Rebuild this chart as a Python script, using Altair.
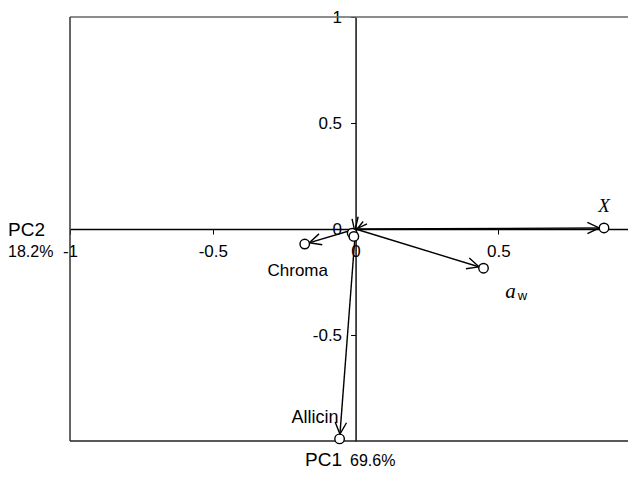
import math
import altair as alt
import pandas as pd

# ---- data (PCA loadings) ----
names = ["X", "a_w", "Chroma", "Allicin", "v5", "v6"]
pc1 = [0.87, 0.448, -0.178, -0.056, -0.012, -0.006]
pc2 = [0.005, -0.185, -0.071, -0.99, -0.02, -0.035]
x_ticks = [-1, -0.5, 0, 0.5, 1]
y_ticks = [-0.5, 0, 0.5, 1]

# ---- layout ----
W, H = 558, 424
XMIN, XMAX = -1.0, 0.954
YMIN, YMAX = -1.0, 1.0
px = W / (XMAX - XMIN)
py = H / (YMAX - YMIN)
FONT = "Liberation Sans"
SERIF = "Liberation Serif"

df = pd.DataFrame({"name": names, "pc1": pc1, "pc2": pc2})
df["ang"] = [math.degrees(math.atan2(-b * py, a * px)) % 360 for a, b in zip(pc1, pc2)]

sx = alt.Scale(domain=[XMIN, XMAX], nice=False, zero=False)
sy = alt.Scale(domain=[YMIN, YMAX], nice=False, zero=False)

ax = alt.Axis(values=x_ticks, orient="bottom", offset=-(H - (0 - YMIN) * py), title=None,
              grid=False, domainColor="black", domainWidth=1.6, tickColor="black",
              tickSize=5, tickWidth=1, labelFont=FONT, labelFontSize=17, labelColor="black",
              labelPadding=9, labelFlush=False, labelOverlap=False,
              labelExpr="toString(datum.value)")
ay = alt.Axis(values=y_ticks, orient="left", offset=-((0 - XMIN) * px), title=None,
              grid=False, domainColor="black", domainWidth=1.4, tickColor="black",
              tickSize=5, tickWidth=1, labelFont=FONT, labelFontSize=17, labelColor="black",
              labelPadding=9, labelFlush=False, labelOverlap=False,
              labelExpr="toString(datum.value)")

X = alt.X("pc1:Q", scale=sx, axis=ax)
Y = alt.Y("pc2:Q", scale=sy, axis=ay)

base = alt.Chart(df)

vectors = base.mark_rule(color="black", strokeWidth=1.4).encode(
    x=X, y=Y, x2=alt.datum(0), y2=alt.datum(0))

arrows = base.mark_point(shape="M-3.5,-1.2L-1,0L-3.5,1.2", filled=False, size=90,
                         color="black", strokeWidth=1.4, opacity=1).encode(
    x=X, y=Y, angle=alt.Angle("ang:Q", scale=None))

circles = base.mark_point(shape="circle", filled=True, fill="white", stroke="black",
                          strokeWidth=1.4, size=90, opacity=1).encode(x=X, y=Y)

def label(name, text, dx, dy, align="center", font=FONT, size=17, style="normal"):
    return base.transform_filter(alt.datum.name == name).mark_text(
        text=text, dx=dx, dy=dy, align=align, baseline="middle", font=font,
        fontSize=size, fontStyle=style, color="black").encode(x=X, y=Y)

lab_x = label("X", "X", 0, -22, font=SERIF, size=19, style="italic")
lab_a = label("a_w", "a", 27, 24, font=SERIF, size=21, style="italic")
lab_w = label("a_w", "w", 39, 28, size=13)
lab_c = label("Chroma", "Chroma", -7, 27, size=17)
lab_al = label("Allicin", "Allicin", -1, -21, align="right", size=18)

# ---- frame (left, top, bottom; right edge is off the picture) ----
one = pd.DataFrame({"k": [0]})
frame_top = alt.Chart(one).mark_rule(color="#666666", strokeWidth=1.5).encode(
    x=alt.value(0), x2=alt.value(W), y=alt.value(0))
frame_bot = alt.Chart(one).mark_rule(color="#222222", strokeWidth=1.5).encode(
    x=alt.value(0), x2=alt.value(W), y=alt.value(H))
frame_left = alt.Chart(one).mark_rule(color="#333333", strokeWidth=1.5).encode(
    x=alt.value(0), y=alt.value(0), y2=alt.value(H))

def title(text, x, y, size, align="left"):
    return alt.Chart(one).mark_text(text=text, align=align, baseline="middle", font=FONT,
                                    fontSize=size, color="black").encode(
        x=alt.value(x), y=alt.value(y))

t_pc2 = title("PC2", -62, 213, 19)
t_pc2p = title("18.2%", -62, 235, 16)
t_pc1 = title("PC1", 235, 443, 19)
t_pc1p = title("69.6%", 280, 444, 16)

chart = alt.layer(
    vectors, frame_top, frame_bot, frame_left, arrows, circles,
    lab_x, lab_a, lab_w, lab_c, lab_al, t_pc2, t_pc2p, t_pc1, t_pc1p
).properties(
    width=W, height=H,
    autosize=alt.AutoSizeParams(type="none"),
    padding={"left": 62, "top": 9, "right": 0, "bottom": 29},
).configure_view(stroke=None)

chart.save("out.html", embed_options={"renderer": "svg", "actions": False})
